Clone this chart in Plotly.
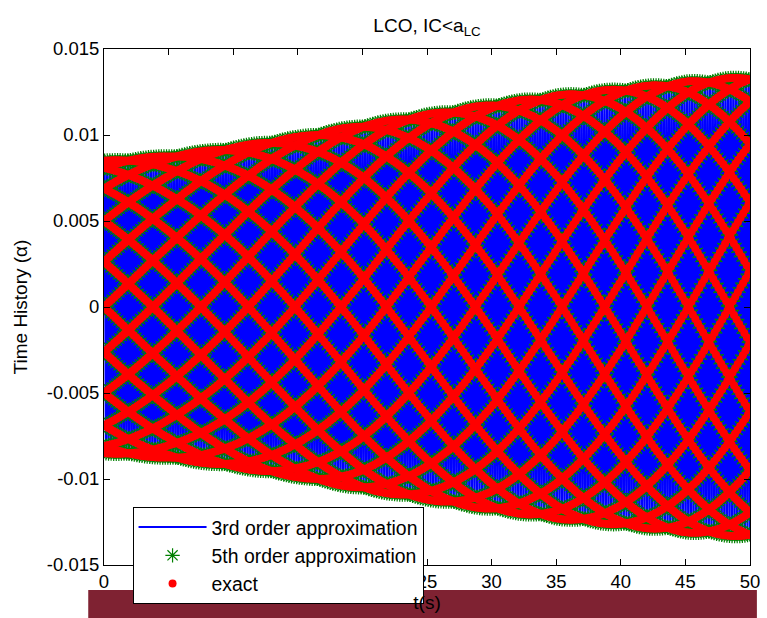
import numpy as np
import plotly.graph_objects as go

# ---- data -----------------------------------------------------------------
# sampling of the time history
dt = 0.01
t_end = 50.0
samples_per_cycle = 20          # samples per oscillation period

# LCO amplitude envelope of alpha (rad) at 5 s intervals
env_t = [0, 5, 10, 15, 20, 25, 30, 35, 40, 45, 50]
env_amp = [0.0085, 0.0088, 0.0093, 0.0099, 0.0106, 0.0112,
           0.0118, 0.0123, 0.0127, 0.0131, 0.0134]
# accumulated phase slip (deg) of the oscillation against the sample clock
env_slip = [0.0, 23.9, 48.2, 73.1, 98.4, 124.3, 150.6, 177.5, 204.8, 232.7, 261.0]

# axis ticks
x_ticks = [0, 5, 10, 15, 20, 25, 30, 35, 40, 45, 50]
y_ticks = [-0.015, -0.01, -0.005, 0, 0.005, 0.01, 0.015]
y_tick_text = ["-0.015", "-0.01", "-0.005", "0", "0.005", "0.01", "0.015"]

series_names = ["3rd order approximation", "5th order approximation", "exact"]

# ---- time histories ---------------------------------------------------------
t = np.arange(0.0, t_end + dt / 2, dt)
n = np.arange(t.size)
amp = np.interp(t, env_t, env_amp)
slip = np.interp(t, env_t, env_slip)
phase = 2 * np.pi * (n / samples_per_cycle + slip / 360.0)
alpha_exact = amp * np.sin(phase)
alpha_3rd = alpha_exact.copy()
alpha_5th = alpha_exact.copy()

FONT = "Liberation Sans, Arial, Helvetica, sans-serif"

fig = go.Figure()
fig.add_trace(go.Scatter(
    x=t, y=alpha_3rd, name=series_names[0], mode="lines+markers",
    line=dict(color="#0000ff", width=2, simplify=False),
    marker=dict(color="#0000ff", size=2),
    legendgroup="a",
))
fig.add_trace(go.Scatter(
    x=t, y=alpha_5th, name=series_names[1], mode="markers",
    marker=dict(symbol="asterisk-open", size=12, color="#008000",
                line=dict(color="#008000", width=1.2)),
    legendgroup="b",
))
fig.add_trace(go.Scatter(
    x=t, y=alpha_exact, name=series_names[2], mode="markers",
    marker=dict(symbol="circle", size=8, color="#ff0000", line=dict(width=0)),
    legendgroup="c",
))

axis_common = dict(
    showgrid=False, zeroline=False, showline=True, linecolor="black",
    linewidth=1, mirror="ticks", ticks="inside", ticklen=6,
    tickcolor="black", tickwidth=1, ticklabeloverflow="allow",
    tickfont=dict(family=FONT, size=18.5, color="black"),
)

fig.update_layout(
    width=767, height=618, autosize=False,
    margin=dict(l=104, r=7, t=49, b=53),
    paper_bgcolor="white", plot_bgcolor="white",
    title=dict(text="LCO, IC&lt;a<sub>LC</sub>", x=0.5, xref="paper",
               y=1 - 25 / 618, yanchor="middle", xanchor="center",
               font=dict(family=FONT, size=19, color="black")),
    xaxis=dict(range=[0, 50], tickvals=x_ticks,
               ticktext=[str(v) for v in x_ticks],
               title=dict(text="t(s)", standoff=4,
                          font=dict(family=FONT, size=19, color="black")),
               **axis_common),
    yaxis=dict(range=[-0.015, 0.015], tickvals=y_ticks, ticktext=y_tick_text,
               title=dict(text="Time History (α)", standoff=14,
                          font=dict(family=FONT, size=19, color="black")),
               **axis_common),
    legend=dict(x=(133 - 104) / 656, y=(565 - 507) / 516,
                xanchor="left", yanchor="top",
                bgcolor="white", bordercolor="black", borderwidth=1,
                font=dict(family=FONT, size=19.4, color="black"),
                itemwidth=68, tracegroupgap=0, traceorder="normal"),
    shapes=[dict(type="rect", xref="paper", yref="paper",
                 x0=(88 - 104) / 656, x1=(767 - 104) / 656,
                 y0=(565 - 620) / 516, y1=(565 - 590) / 516,
                 fillcolor="#7f2232", line=dict(width=0), layer="below")],
    showlegend=True,
)

# keep the page exactly the size of the figure (no body margin, no scrollbars)
page_css = ("document.documentElement.style.overflow='hidden';"
            "document.body.style.margin='0';"
            "document.body.style.overflow='hidden';")

fig.write_html("out.html", config={"responsive": False}, post_script=page_css)
